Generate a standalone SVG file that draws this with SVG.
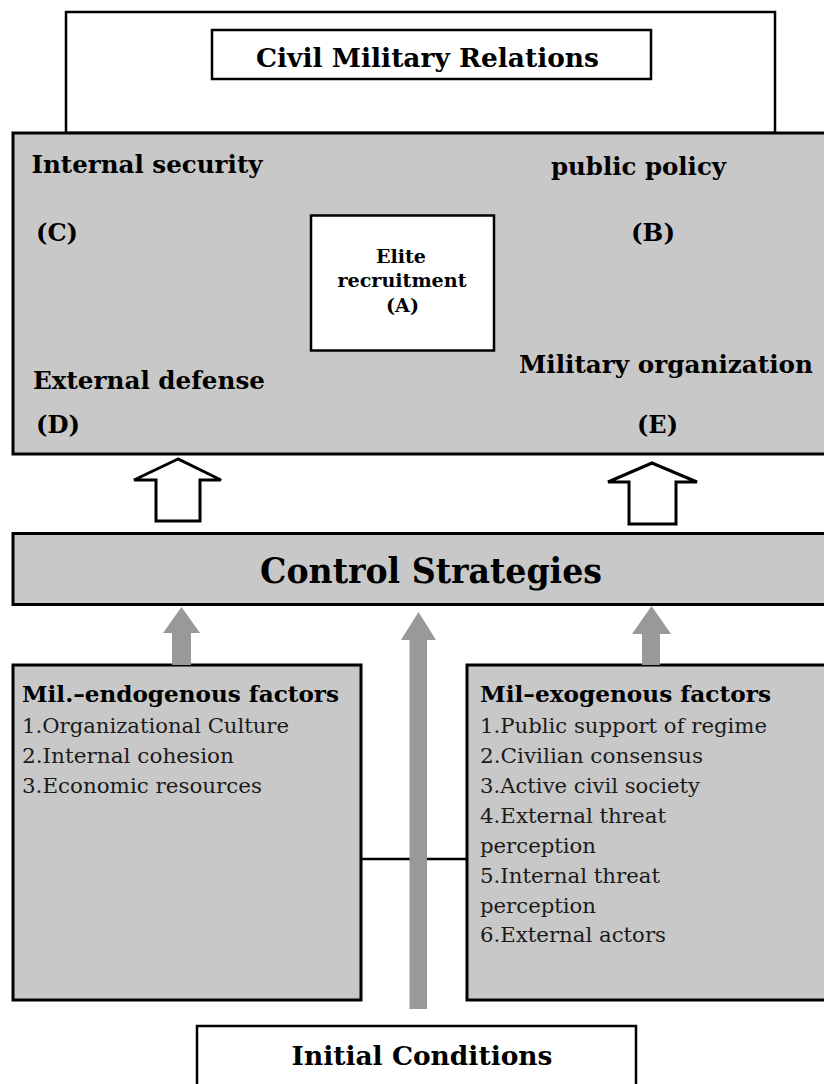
<svg xmlns="http://www.w3.org/2000/svg" width="824" height="1084" viewBox="0 0 824 1084">
<style>
text{font-family:"DejaVu Serif","Liberation Serif",serif;fill:#000}
.b{font-weight:bold}
.lab{font-size:24px;font-weight:bold}
.head{font-size:23px;font-weight:bold}
.item{font-size:20px;fill:#1a1a1a}
.gbox{fill:#c8c8c8;stroke:#000;stroke-width:3}
.wbox{fill:#fff;stroke:#000;stroke-width:2.5}
.hollow{fill:#fff;stroke:#000;stroke-width:3;stroke-linejoin:miter}
.garrow{fill:#999}
</style>
<rect width="824" height="1084" fill="#fff"/>
<g id="civil-military-relations">
<rect class="wbox" x="66" y="12" width="709" height="121"/>
<rect class="wbox" x="212" y="30" width="439" height="49"/>
<text class="b" x="427.5" y="67" font-size="26" text-anchor="middle" textLength="343" lengthAdjust="spacingAndGlyphs">Civil Military Relations</text>
</g>
<g id="domains">
<rect class="gbox" x="13" y="133" width="820" height="321"/>
<text class="lab" x="31.5" y="172.5" textLength="231" lengthAdjust="spacingAndGlyphs">Internal security</text>
<text class="lab" x="551" y="175" textLength="175" lengthAdjust="spacingAndGlyphs">public policy</text>
<text class="lab" x="36" y="241" textLength="42" lengthAdjust="spacingAndGlyphs">(C)</text>
<text class="lab" x="631" y="241" textLength="44" lengthAdjust="spacingAndGlyphs">(B)</text>
<text class="lab" x="519" y="373" textLength="294" lengthAdjust="spacingAndGlyphs">Military organization</text>
<text class="lab" x="33" y="389" textLength="232" lengthAdjust="spacingAndGlyphs">External defense</text>
<text class="lab" x="36" y="433" textLength="44" lengthAdjust="spacingAndGlyphs">(D)</text>
<text class="lab" x="637" y="433" textLength="41" lengthAdjust="spacingAndGlyphs">(E)</text>
</g>
<g id="elite-recruitment">
<rect class="wbox" x="311" y="215.5" width="183" height="135"/>
<text class="b" x="401" y="262.5" font-size="18.5" text-anchor="middle" textLength="50" lengthAdjust="spacingAndGlyphs">Elite</text>
<text class="b" x="402" y="287" font-size="18.5" text-anchor="middle" textLength="129" lengthAdjust="spacingAndGlyphs">recruitment</text>
<text class="b" x="402.5" y="311.5" font-size="18.5" text-anchor="middle" textLength="33" lengthAdjust="spacingAndGlyphs">(A)</text>
</g>
<g id="control-strategies">
<rect class="gbox" x="13" y="533.5" width="820" height="71"/>
<text class="b" x="431" y="583" font-size="36" text-anchor="middle" textLength="342" lengthAdjust="spacingAndGlyphs">Control Strategies</text>
</g>
<g id="endogenous">
<rect class="gbox" x="13" y="665" width="348" height="335" stroke-width="2.5"/>
<text class="head" x="22" y="702" textLength="317" lengthAdjust="spacingAndGlyphs">Mil.–endogenous factors</text>
<text class="item" x="22" y="733" textLength="267" lengthAdjust="spacingAndGlyphs">1.Organizational Culture</text>
<text class="item" x="22" y="763" textLength="212" lengthAdjust="spacingAndGlyphs">2.Internal cohesion</text>
<text class="item" x="22" y="793" textLength="240" lengthAdjust="spacingAndGlyphs">3.Economic resources</text>
</g>
<g id="exogenous">
<rect class="gbox" x="467" y="665" width="366" height="335" stroke-width="2.5"/>
<text class="head" x="480" y="702" textLength="291" lengthAdjust="spacingAndGlyphs">Mil–exogenous factors</text>
<text class="item" x="480" y="733" textLength="287" lengthAdjust="spacingAndGlyphs">1.Public support of regime</text>
<text class="item" x="480" y="763" textLength="223" lengthAdjust="spacingAndGlyphs">2.Civilian consensus</text>
<text class="item" x="480" y="793" textLength="220" lengthAdjust="spacingAndGlyphs">3.Active civil society</text>
<text class="item" x="480" y="823" textLength="186" lengthAdjust="spacingAndGlyphs">4.External threat</text>
<text class="item" x="480" y="853" textLength="116" lengthAdjust="spacingAndGlyphs">perception</text>
<text class="item" x="480" y="883" textLength="180" lengthAdjust="spacingAndGlyphs">5.Internal threat</text>
<text class="item" x="480" y="913" textLength="116" lengthAdjust="spacingAndGlyphs">perception</text>
<text class="item" x="480" y="942" textLength="186" lengthAdjust="spacingAndGlyphs">6.External actors</text>
</g>
<g id="initial-conditions">
<rect class="wbox" x="197" y="1026" width="439" height="70"/>
<text class="b" x="422" y="1065" font-size="26" text-anchor="middle" textLength="261" lengthAdjust="spacingAndGlyphs">Initial Conditions</text>
</g>
<g id="connectors">
<line x1="361" y1="859" x2="467" y2="859" stroke="#000" stroke-width="2.5"/>
<polygon class="hollow" points="178,459 134,480 156,480 156,521 200,521 200,480 221,480"/>
<polygon class="hollow" points="652,463 608,482 629,482 629,524 676,524 676,482 697,482"/>
<polygon class="garrow" points="181.5,607 200,633 191,633 191,665 172,665 172,633 163,633"/>
<polygon class="garrow" points="418.5,612 436,640 427,640 427,1009 409.5,1009 409.5,640 401,640"/>
<polygon class="garrow" points="651.5,606 671,634 660,634 660,665 642,665 642,634 632,634"/>
</g>
</svg>
